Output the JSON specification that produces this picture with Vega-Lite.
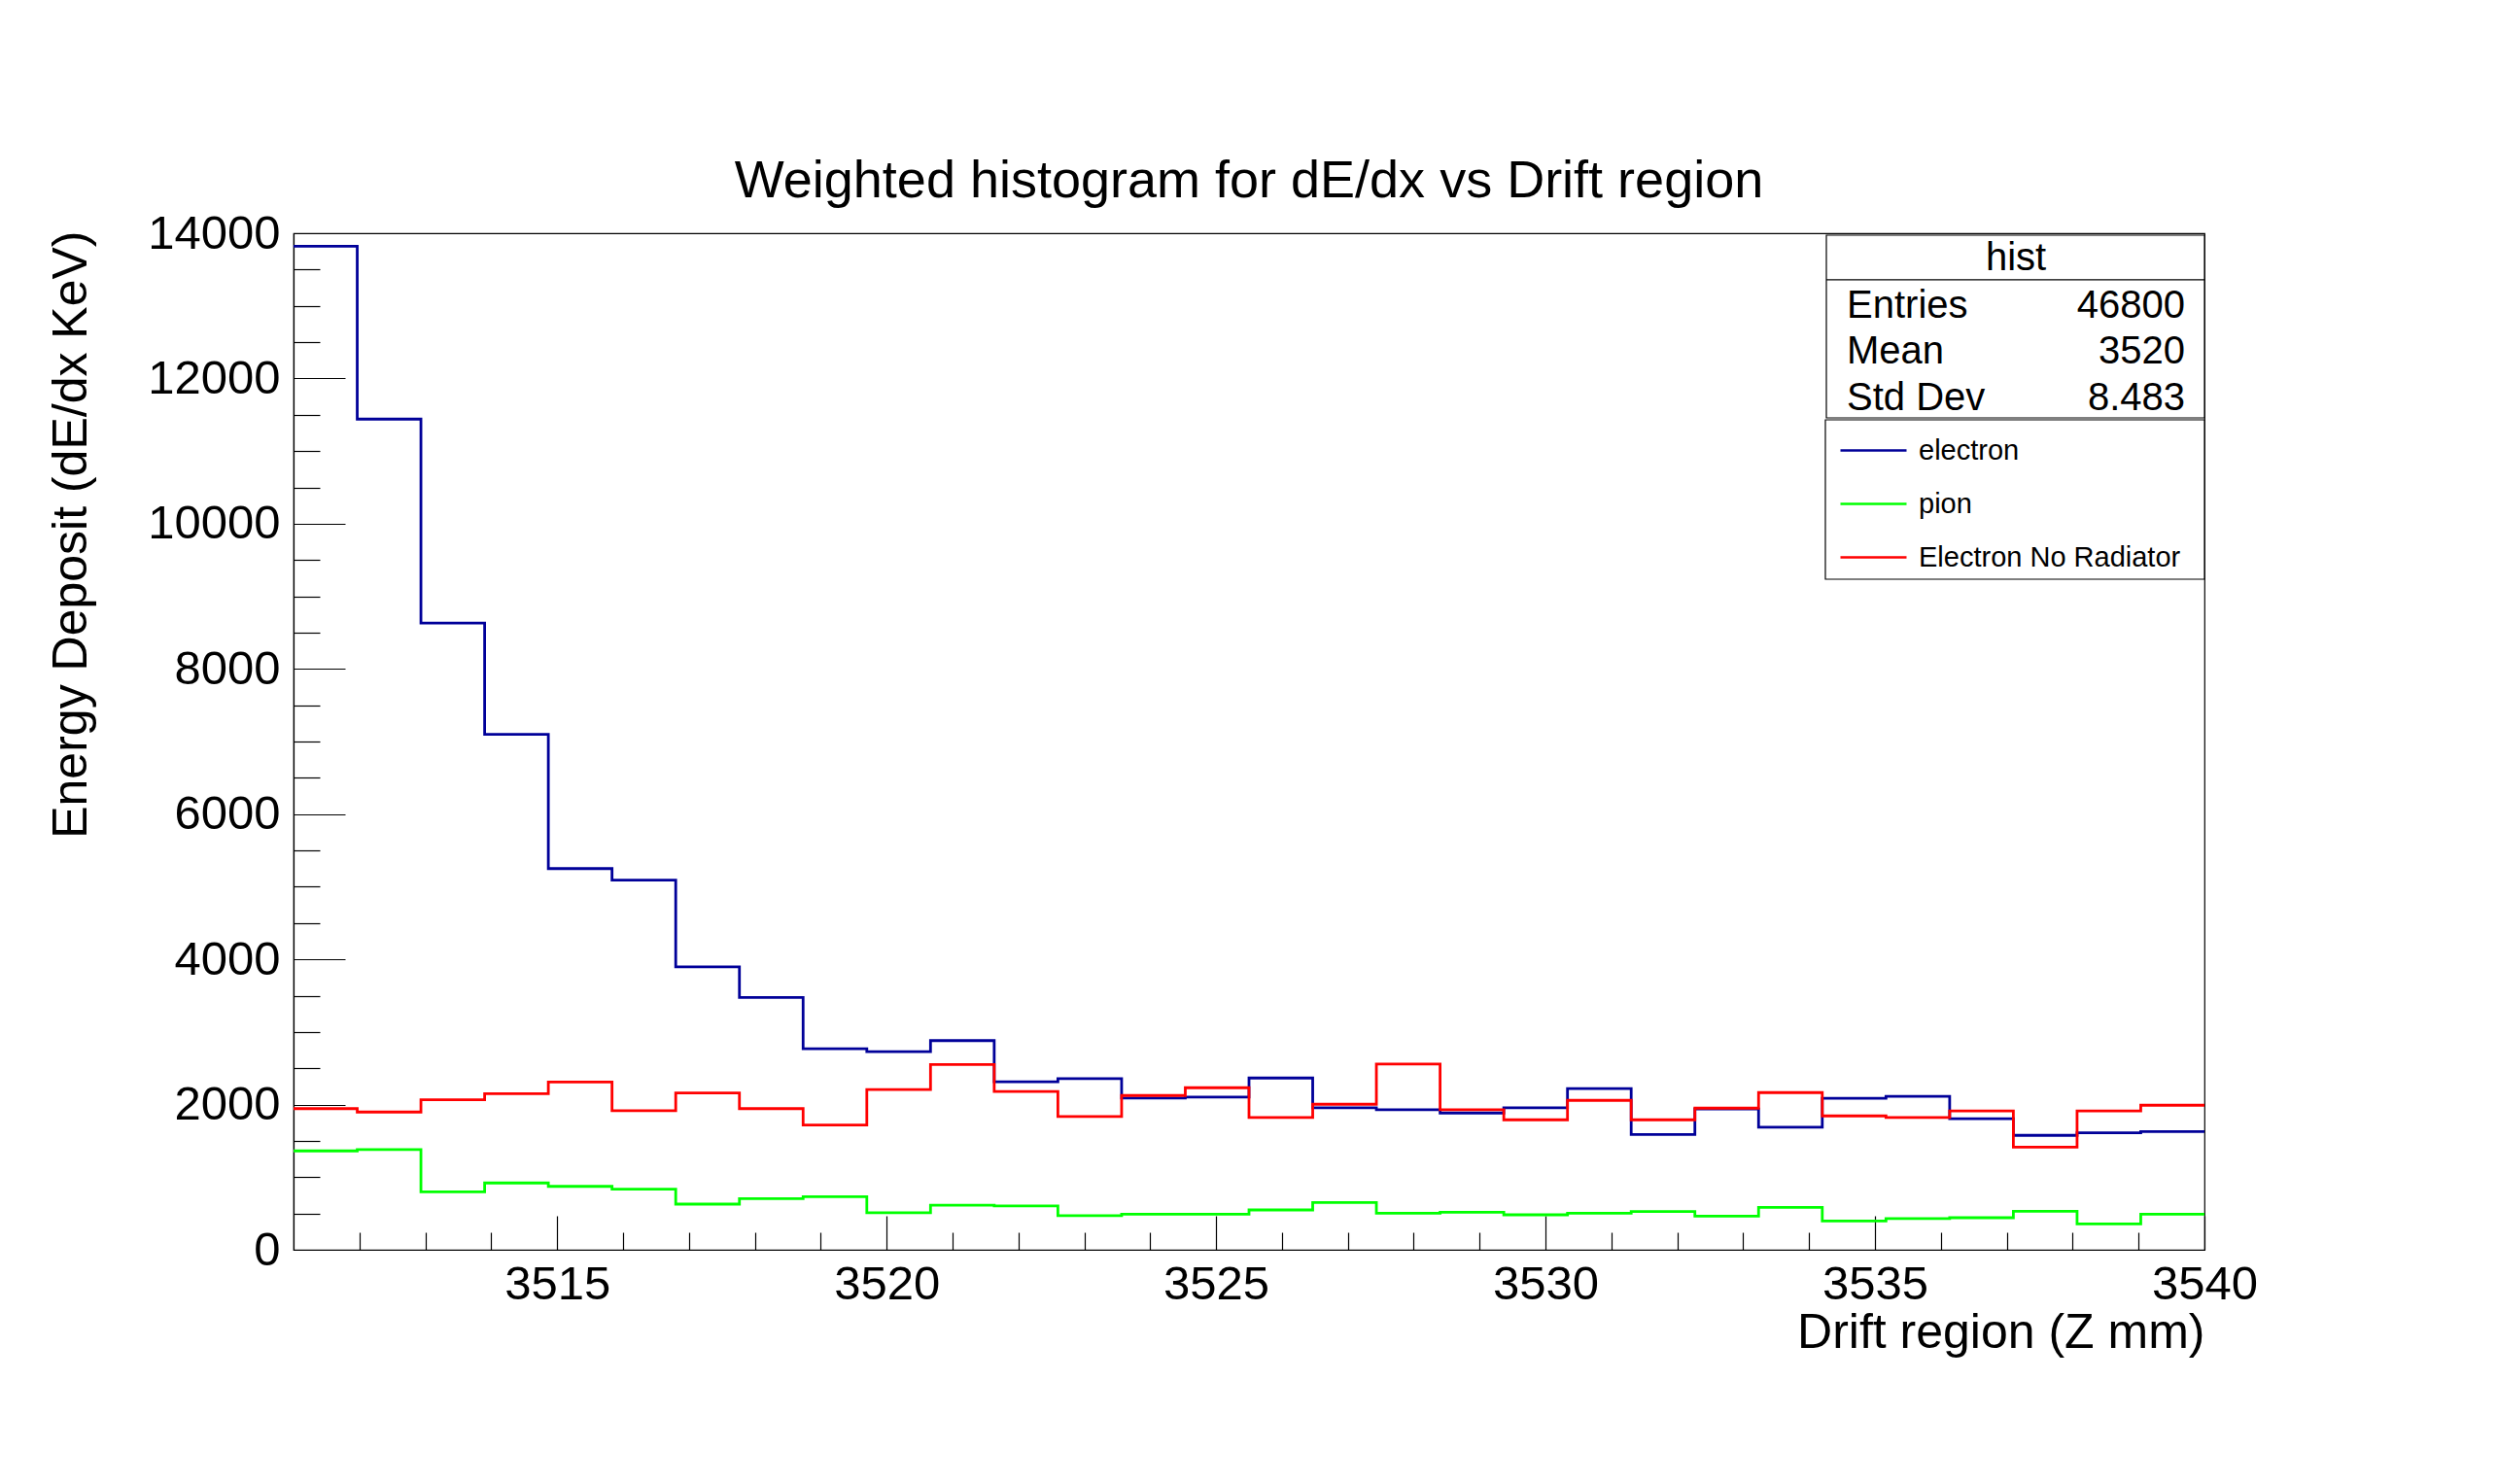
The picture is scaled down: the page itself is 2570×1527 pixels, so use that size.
{
  "$schema": "https://vega.github.io/schema/vega-lite/v6.json",
  "autosize": {"type": "none"},
  "padding": {"left": 302, "top": 240, "right": 302, "bottom": 241},
  "width": 1966,
  "height": 1046,
  "background": "white",
  "title": {"text": "Weighted histogram for dE/dx vs Drift region", "font": "Liberation Sans", "fontSize": 54, "fontWeight": "normal", "color": "black", "anchor": "middle", "frame": "group", "baseline": "alphabetic", "offset": -41},
  "datasets": {
    "hist": [
      {"lo": 3511, "hi": 3511.9667, "electron": 13820, "pion": 1362, "Electron No Radiator": 1944},
      {"lo": 3511.9667, "hi": 3512.9333, "electron": 11440, "pion": 1380, "Electron No Radiator": 1897},
      {"lo": 3512.9333, "hi": 3513.9, "electron": 8630, "pion": 798, "Electron No Radiator": 2066},
      {"lo": 3513.9, "hi": 3514.8667, "electron": 7100, "pion": 920, "Electron No Radiator": 2150},
      {"lo": 3514.8667, "hi": 3515.8333, "electron": 5250, "pion": 873, "Electron No Radiator": 2310},
      {"lo": 3515.8333, "hi": 3516.8, "electron": 5090, "pion": 836, "Electron No Radiator": 1915},
      {"lo": 3516.8, "hi": 3517.7667, "electron": 3897, "pion": 629, "Electron No Radiator": 2160},
      {"lo": 3517.7667, "hi": 3518.7333, "electron": 3474, "pion": 704, "Electron No Radiator": 1944},
      {"lo": 3518.7333, "hi": 3519.7, "electron": 2770, "pion": 732, "Electron No Radiator": 1718},
      {"lo": 3519.7, "hi": 3520.6667, "electron": 2730, "pion": 510, "Electron No Radiator": 2208},
      {"lo": 3520.6667, "hi": 3521.6333, "electron": 2881, "pion": 613, "Electron No Radiator": 2552},
      {"lo": 3521.6333, "hi": 3522.6, "electron": 2313, "pion": 603, "Electron No Radiator": 2179},
      {"lo": 3522.6, "hi": 3523.5667, "electron": 2357, "pion": 469, "Electron No Radiator": 1835},
      {"lo": 3523.5667, "hi": 3524.5333, "electron": 2089, "pion": 491, "Electron No Radiator": 2125},
      {"lo": 3524.5333, "hi": 3525.5, "electron": 2103, "pion": 491, "Electron No Radiator": 2232},
      {"lo": 3525.5, "hi": 3526.4667, "electron": 2366, "pion": 549, "Electron No Radiator": 1821},
      {"lo": 3526.4667, "hi": 3527.4333, "electron": 1955, "pion": 652, "Electron No Radiator": 2004},
      {"lo": 3527.4333, "hi": 3528.4, "electron": 1929, "pion": 504, "Electron No Radiator": 2558},
      {"lo": 3528.4, "hi": 3529.3667, "electron": 1884, "pion": 518, "Electron No Radiator": 1929},
      {"lo": 3529.3667, "hi": 3530.3333, "electron": 1955, "pion": 482, "Electron No Radiator": 1790},
      {"lo": 3530.3333, "hi": 3531.3, "electron": 2219, "pion": 504, "Electron No Radiator": 2058},
      {"lo": 3531.3, "hi": 3532.2667, "electron": 1589, "pion": 527, "Electron No Radiator": 1790},
      {"lo": 3532.2667, "hi": 3533.2333, "electron": 1938, "pion": 464, "Electron No Radiator": 1951},
      {"lo": 3533.2333, "hi": 3534.2, "electron": 1688, "pion": 585, "Electron No Radiator": 2165},
      {"lo": 3534.2, "hi": 3535.1667, "electron": 2085, "pion": 397, "Electron No Radiator": 1844},
      {"lo": 3535.1667, "hi": 3536.1333, "electron": 2112, "pion": 429, "Electron No Radiator": 1821},
      {"lo": 3536.1333, "hi": 3537.1, "electron": 1804, "pion": 442, "Electron No Radiator": 1911},
      {"lo": 3537.1, "hi": 3538.0667, "electron": 1576, "pion": 531, "Electron No Radiator": 1415},
      {"lo": 3538.0667, "hi": 3539.0333, "electron": 1612, "pion": 357, "Electron No Radiator": 1911},
      {"lo": 3539.0333, "hi": 3540, "electron": 1629, "pion": 491, "Electron No Radiator": 1991}
    ],
    "stats": [
      {"stat": "Entries", "value": "46800"},
      {"stat": "Mean", "value": "3520"},
      {"stat": "Std Dev", "value": "8.483"}
    ],
    "box": [{"name": "hist"}]
  },
  "config": {
    "font": "Liberation Sans",
    "view": {"stroke": "black", "strokeWidth": 1.2},
    "axis": {"grid": false, "tickColor": "black", "tickWidth": 1.2, "domainColor": "black", "domainWidth": 1.2, "labelColor": "black", "labelFont": "Liberation Sans", "labelFlush": false, "labelOverlap": false, "labelBound": false, "titleColor": "black", "titleFont": "Liberation Sans", "titleFontWeight": "normal"}
  },
  "resolve": {"axis": {"x": "independent", "y": "independent"}},
  "layer": [
    {
      "data": {"name": "hist"},
      "transform": [
        {"fold": ["electron", "pion", "Electron No Radiator"], "as": ["series", "value"]},
        {"fold": ["lo", "hi"], "as": ["edge", "x"]}
      ],
      "mark": {"type": "line", "strokeWidth": 2.8, "interpolate": "linear"},
      "encoding": {
        "x": {"field": "x", "type": "quantitative", "scale": {"domain": [3511, 3540], "nice": false, "zero": false},
          "axis": {"orient": "bottom", "values": [3515, 3520, 3525, 3530, 3535, 3540], "format": "d", "tickSize": -35, "labelPadding": 46, "labelFontSize": 49, "title": "Drift region (Z mm)", "titleFontSize": 50, "titleX": 1966, "titleY": 100, "titleAlign": "right", "titleBaseline": "alphabetic"}},
        "y": {"field": "value", "type": "quantitative", "scale": {"domain": [0, 14000], "nice": false, "zero": true},
          "axis": {"orient": "left", "values": [0, 2000, 4000, 6000, 8000, 10000, 12000, 14000], "format": "d", "tickSize": -53, "labelPadding": 67, "labelFontSize": 49, "title": "Energy Deposit (dE/dx KeV)", "titleFontSize": 50, "titleX": -214, "titleY": -3, "titleAngle": 270, "titleAlign": "right", "titleBaseline": "alphabetic"}},
        "color": {"field": "series", "type": "nominal",
          "scale": {"domain": ["electron", "pion", "Electron No Radiator"], "range": ["#000099", "#00ff00", "#ff0000"]},
          "legend": {"orient": "none", "legendX": 1590, "legendY": 188, "title": null, "symbolType": "stroke", "symbolSize": 4624, "symbolStrokeWidth": 2.5, "labelFontSize": 29, "labelFont": "Liberation Sans", "labelColor": "black", "labelOffset": 11, "labelLimit": 0, "rowPadding": 4, "padding": 0, "offset": 0}},
        "order": [{"field": "x", "type": "quantitative"}, {"field": "edge", "type": "nominal"}]
      }
    },
    {
      "data": {"name": "box"},
      "mark": {"type": "rect", "fill": "white", "stroke": "black", "strokeWidth": 1.2},
      "encoding": {
        "x": {"datum": 3534.262, "type": "quantitative", "scale": {"domain": [3511, 3540], "nice": false, "zero": false},
          "axis": {"orient": "bottom", "values": [3512, 3513, 3514, 3516, 3517, 3518, 3519, 3521, 3522, 3523, 3524, 3526, 3527, 3528, 3529, 3531, 3532, 3533, 3534, 3536, 3537, 3538, 3539], "tickSize": -18, "labels": false, "domain": false, "title": null}},
        "x2": {"datum": 3540},
        "y": {"datum": 13973, "type": "quantitative", "scale": {"domain": [0, 14000], "nice": false, "zero": true},
          "axis": {"orient": "left", "values": [500, 1000, 1500, 2500, 3000, 3500, 4500, 5000, 5500, 6500, 7000, 7500, 8500, 9000, 9500, 10500, 11000, 11500, 12500, 13000, 13500], "tickSize": -27, "labels": false, "domain": false, "title": null}},
        "y2": {"datum": 11457}
      }
    },
    {
      "data": {"name": "box"},
      "mark": {"type": "rule", "stroke": "black", "strokeWidth": 1.2},
      "encoding": {
        "x": {"datum": 3534.262, "type": "quantitative", "axis": null},
        "x2": {"datum": 3540},
        "y": {"datum": 13358, "type": "quantitative", "axis": null}
      }
    },
    {
      "data": {"name": "box"},
      "mark": {"type": "rect", "fill": "white", "stroke": "black", "strokeWidth": 1.2},
      "encoding": {
        "x": {"datum": 3534.247, "type": "quantitative", "axis": null},
        "x2": {"datum": 3540},
        "y": {"datum": 11430, "type": "quantitative", "axis": null},
        "y2": {"datum": 9235}
      }
    },
    {
      "data": {"name": "box"},
      "mark": {"type": "text", "align": "center", "baseline": "alphabetic", "fontSize": 40, "font": "Liberation Sans", "color": "black"},
      "encoding": {
        "x": {"datum": 3537.139, "type": "quantitative", "axis": null},
        "y": {"datum": 13491, "type": "quantitative", "axis": null},
        "text": {"field": "name"}
      }
    },
    {
      "data": {"name": "stats"},
      "mark": {"type": "text", "align": "left", "baseline": "alphabetic", "fontSize": 40, "font": "Liberation Sans", "color": "black"},
      "encoding": {
        "x": {"datum": 3534.572, "type": "quantitative", "axis": null},
        "y": {"datum": 12836, "type": "quantitative", "axis": null},
        "yOffset": {"field": "stat", "type": "nominal", "scale": {"type": "point", "domain": ["Entries", "Mean", "Std Dev"], "range": [0, 95], "padding": 0}},
        "text": {"field": "stat"}
      }
    },
    {
      "data": {"name": "stats"},
      "mark": {"type": "text", "align": "right", "baseline": "alphabetic", "fontSize": 40, "font": "Liberation Sans", "color": "black"},
      "encoding": {
        "x": {"datum": 3539.705, "type": "quantitative", "axis": null},
        "y": {"datum": 12836, "type": "quantitative", "axis": null},
        "yOffset": {"field": "stat", "type": "nominal", "scale": {"type": "point", "domain": ["Entries", "Mean", "Std Dev"], "range": [0, 95], "padding": 0}},
        "text": {"field": "value"}
      }
    }
  ]
}
